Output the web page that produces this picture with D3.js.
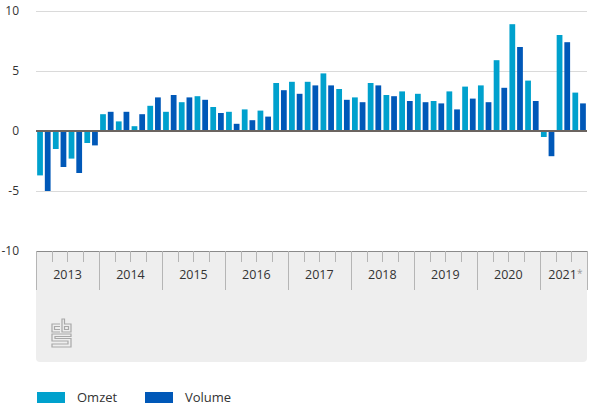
<!DOCTYPE html>
<html>
<head>
<meta charset="utf-8">
<script src="https://cdn.jsdelivr.net/npm/d3@7"></script>
<style>
  html, body { margin: 0; padding: 0; background: #fff; }
  svg { display: block; font-family: "Open Sans", "Noto Sans", sans-serif; }
</style>
</head>
<body>
<svg id="chart" width="600" height="411"></svg>
<script>
// ---- data ----
const years = ["2013", "2014", "2015", "2016", "2017", "2018", "2019", "2020", "2021*"];
const quartersPerYear = [4, 4, 4, 4, 4, 4, 4, 4, 3];
const seriesNames = ["Omzet", "Volume"];
const omzet = [-3.7, -1.5, -2.3, -1.0,
               1.4, 0.8, 0.4, 2.1,
               1.6, 2.4, 2.9, 2.0,
               1.6, 1.8, 1.7, 4.0,
               4.1, 4.1, 4.8, 3.5,
               2.8, 4.0, 3.0, 3.3,
               3.1, 2.5, 3.3, 3.7,
               3.8, 5.9, 8.9, 4.2,
               -0.5, 8.0, 3.2];
const volume = [-5.0, -3.0, -3.5, -1.2,
                1.6, 1.6, 1.4, 2.8,
                3.0, 2.8, 2.6, 1.5,
                0.6, 0.9, 1.2, 3.4,
                3.1, 3.8, 3.8, 2.6,
                2.4, 3.8, 2.9, 2.5,
                2.4, 2.3, 1.8, 2.7,
                2.4, 3.6, 7.0, 2.5,
                -2.1, 7.4, 2.3];
const yTicks = [-10, -5, 0, 5, 10];
const colors = ["#00a1cd", "#0058b8"];

(function () {
// ---- build quarter keys ----
const quarters = [];
years.forEach((yr, i) => {
  for (let q = 1; q <= quartersPerYear[i]; q++) quarters.push(yr + "Q" + q);
});
const rows = quarters.map((k, i) => ({ key: k, values: [omzet[i], volume[i]] }));

const svg = d3.select("#chart");
const pLeft = 36, pRight = 587, pTop = 11, pBottom = 251;

const x0 = d3.scaleBand().domain(quarters).range([pLeft, pRight]).paddingInner(0).paddingOuter(0);
const x1 = d3.scaleBand().domain(seriesNames).range([0, x0.bandwidth()]).paddingInner(0.25).paddingOuter(0.15);
const y = d3.scaleLinear().domain([-10, 10]).range([pBottom, pTop]);

// x-axis panel
const panelBottom = 362, r = 4;
svg.append("path")
  .attr("d", `M${pLeft},${pBottom} H${pRight} V${panelBottom - r} Q${pRight},${panelBottom} ${pRight - r},${panelBottom} H${pLeft + r} Q${pLeft},${panelBottom} ${pLeft},${panelBottom - r} Z`)
  .attr("fill", "#eeeeee");

// gridlines
svg.append("g").selectAll("line")
  .data(yTicks.filter(t => t !== 0 && t !== -10))
  .join("line")
  .attr("x1", pLeft).attr("x2", pRight)
  .attr("y1", d => Math.round(y(d)) + 0.5).attr("y2", d => Math.round(y(d)) + 0.5)
  .attr("stroke", "#dadada").attr("stroke-width", 1);

// y labels
const yAxis = d3.axisLeft(y).tickValues(yTicks).tickSize(0).tickPadding(0).tickFormat(d => String(d));
const ya = svg.append("g").attr("transform", `translate(19,0)`).call(yAxis);
ya.select(".domain").remove();
ya.selectAll("text").attr("font-size", 12).attr("fill", "#333").attr("font-family", "'Open Sans', sans-serif");

// bars
const g = svg.append("g").selectAll("g").data(rows).join("g")
  .attr("transform", d => `translate(${x0(d.key)},0)`);
g.selectAll("rect").data(d => d.values.map((v, i) => ({ name: seriesNames[i], v, i })))
  .join("rect")
  .attr("x", d => x1(d.name))
  .attr("width", x1.bandwidth())
  .attr("y", d => y(Math.max(0, d.v)))
  .attr("height", d => Math.abs(y(d.v) - y(0)))
  .attr("fill", d => colors[d.i]);

// zero line
svg.append("line").attr("x1", pLeft).attr("x2", pRight)
  .attr("y1", y(0)).attr("y2", y(0))
  .attr("stroke", "#6b6460").attr("stroke-width", 2);

// bottom axis line
svg.append("line").attr("x1", pLeft).attr("x2", pRight)
  .attr("y1", pBottom + 0.5).attr("y2", pBottom + 0.5)
  .attr("stroke", "#8a8a8a").attr("stroke-width", 1);

// quarter ticks
const qTicks = quarters.filter(k => !k.endsWith("Q1"));
svg.append("g").selectAll("line").data(qTicks).join("line")
  .attr("x1", d => Math.round(x0(d)) + 0.5).attr("x2", d => Math.round(x0(d)) + 0.5)
  .attr("y1", pBottom).attr("y2", pBottom + 11)
  .attr("stroke", "#b5b5b5").attr("stroke-width", 1);

// year separators
const yearStarts = quarters.filter(k => k.endsWith("Q1")).map(k => x0(k));
yearStarts.push(pRight);
svg.append("g").selectAll("line").data(yearStarts).join("line")
  .attr("x1", d => Math.round(d) + 0.5).attr("x2", d => Math.round(d) + 0.5)
  .attr("y1", pBottom).attr("y2", pBottom + 39)
  .attr("stroke", "#b5b5b5").attr("stroke-width", 1);

// year labels
years.forEach((yr, i) => {
  const first = x0(yr + "Q1");
  const last = x0(yr + "Q" + quartersPerYear[i]) + x0.bandwidth();
  const t = svg.append("text")
    .attr("x", (first + last) / 2 + (yr.endsWith("*") ? 2 : 0))
    .attr("y", 279)
    .attr("text-anchor", "middle")
    .attr("font-size", 12.5)
    .attr("fill", "#333");
  if (yr.endsWith("*")) {
    t.append("tspan").text(yr.slice(0, -1));
    t.append("tspan").text("*").attr("fill", "#999").attr("font-size", 10).attr("dy", -2);
  } else {
    t.text(yr);
  }
});

// cbs logo (outline style)
const logo = svg.append("g").attr("transform", "translate(51,319)")
  .attr("fill", "none").attr("stroke", "#a8a8a8").attr("stroke-width", 1.2);
logo.append("path").attr("d", "M9,5 H1 V13 H9 M9,7.5 H3.5 V10.5 H9");
logo.append("path").attr("d", "M11,0 V13 H20 V5 H13.5 V0 Z M13.5,7.5 H17.5 V10.5 H13.5 Z");
logo.append("path").attr("d", "M20,15 H1 V22 H17 V25 H1 V28 H20 V19.5 H4 V17.5 H20 Z");

// legend
const legend = svg.append("g");
const legendItems = [{ name: "Omzet", x: 37, tx: 77 }, { name: "Volume", x: 145, tx: 185 }];
legendItems.forEach((d, i) => {
  legend.append("rect").attr("x", d.x).attr("y", 392).attr("width", 28).attr("height", 11).attr("fill", colors[i]);
  legend.append("text").attr("x", d.tx).attr("y", 402).attr("font-size", 13).attr("fill", "#333").text(d.name);
});
})();
</script>
</body>
</html>
